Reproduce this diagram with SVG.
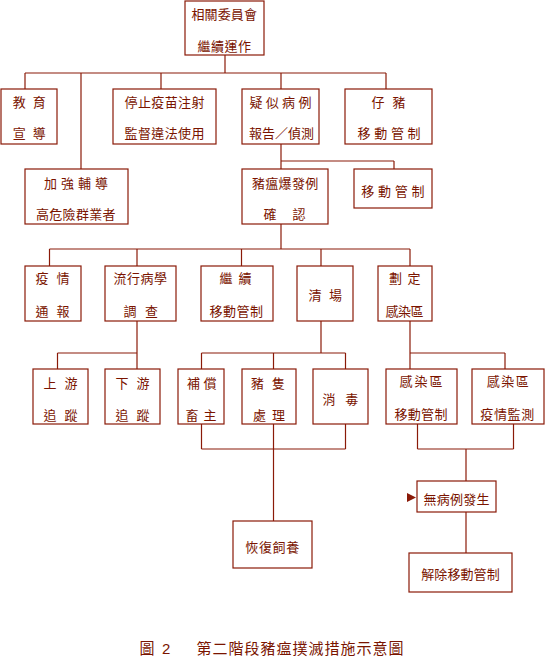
<svg xmlns="http://www.w3.org/2000/svg" width="546" height="662" viewBox="0 0 546 662">
<style>
.b{fill:#fff;stroke:#8a1a08;stroke-width:1.2}
.c line{stroke:#8a1a08;stroke-width:1.2}
text{font-family:"Noto Sans CJK TC","Noto Sans CJK SC",sans-serif;font-size:13px;fill:#7a1400}
.cap{font-size:15px}
</style>
<rect width="546" height="662" fill="#fff"/>
<g class="c" id="connectors">
<line x1="225" y1="55" x2="225" y2="73"/>
<line x1="25" y1="73" x2="386" y2="73"/>
<line x1="25" y1="73" x2="25" y2="89"/>
<line x1="81" y1="73" x2="81" y2="169"/>
<line x1="161" y1="73" x2="161" y2="89"/>
<line x1="281" y1="73" x2="281" y2="89"/>
<line x1="386" y1="73" x2="386" y2="89"/>
<line x1="281" y1="144" x2="281" y2="169"/>
<line x1="281" y1="161" x2="394" y2="161"/>
<line x1="394" y1="161" x2="394" y2="169"/>
<line x1="281" y1="224" x2="281" y2="249"/>
<line x1="49.5" y1="249" x2="410" y2="249"/>
<line x1="49.5" y1="249" x2="49.5" y2="266"/>
<line x1="137" y1="249" x2="137" y2="266"/>
<line x1="241.5" y1="249" x2="241.5" y2="266"/>
<line x1="321" y1="249" x2="321" y2="266"/>
<line x1="410" y1="249" x2="410" y2="266"/>
<line x1="137" y1="321" x2="137" y2="369"/>
<line x1="57.5" y1="353" x2="137" y2="353"/>
<line x1="57.5" y1="353" x2="57.5" y2="369"/>
<line x1="321" y1="321" x2="321" y2="353"/>
<line x1="201.5" y1="353" x2="345.5" y2="353"/>
<line x1="201.5" y1="353" x2="201.5" y2="369"/>
<line x1="273.5" y1="353" x2="273.5" y2="369"/>
<line x1="345.5" y1="353" x2="345.5" y2="369"/>
<line x1="410" y1="321" x2="410" y2="353"/>
<line x1="410" y1="353" x2="505" y2="353"/>
<line x1="410" y1="353" x2="410" y2="369"/>
<line x1="505" y1="353" x2="505" y2="369"/>
<line x1="201.5" y1="424" x2="201.5" y2="449"/>
<line x1="345.5" y1="424" x2="345.5" y2="449"/>
<line x1="201.5" y1="449" x2="345.5" y2="449"/>
<line x1="273.5" y1="424" x2="273.5" y2="521"/>
<line x1="417.5" y1="424" x2="417.5" y2="449"/>
<line x1="513.5" y1="424" x2="513.5" y2="449"/>
<line x1="417.5" y1="449" x2="513.5" y2="449"/>
<line x1="466" y1="449" x2="466" y2="481"/>
<line x1="466" y1="512" x2="466" y2="553"/>
<polygon points="407,493 407,502 416,497.5" fill="#8a1a08"/>
</g>
<g id="n1"><rect class="b" x="185" y="1" width="79" height="54"/>
<text x="191.5 204.6 217.7 230.8 243.9" y="19">相關委員會</text>
<text x="197.5 211 224.5 238" y="51">繼續運作</text></g>
<g id="n2"><rect class="b" x="1" y="89" width="56" height="55"/>
<text x="12.8 32.8" y="107">教育</text><text x="12.8 32.8" y="138">宣導</text></g>
<g id="n3"><rect class="b" x="113" y="89" width="103" height="55"/>
<text x="124.5 137.9 151.3 164.7 178.1 191.5" y="107">停止疫苗注射</text>
<text x="124.5 137.9 151.3 164.7 178.1 191.5" y="138">監督違法使用</text></g>
<g id="n4"><rect class="b" x="242" y="89" width="77" height="55"/>
<text x="249.5 265.8 282.1 298.4" y="107">疑似病例</text>
<text x="249 262 275 288 301" y="138">報告／偵測</text></g>
<g id="n5"><rect class="b" x="345" y="89" width="87" height="55"/>
<text x="371.5 392.5" y="107">仔豬</text>
<text x="357.5 374.2 390.9 407.6" y="138">移動管制</text></g>
<g id="n6"><rect class="b" x="25" y="169" width="103" height="55"/>
<text x="44 61 78 95" y="188">加強輔導</text>
<text x="36 49.3 62.6 75.9 89.2 102.5" y="219">高危險群業者</text></g>
<g id="n7"><rect class="b" x="242" y="169" width="86" height="55"/>
<text x="252 265.3 278.6 291.9 305.2" y="188">豬瘟爆發例</text>
<text x="263.5 292.5" y="219">確認</text></g>
<g id="n8"><rect class="b" x="354" y="169" width="78" height="39"/>
<text x="361.2 378 394.8 411.6" y="196">移動管制</text></g>
<g id="n9"><rect class="b" x="25" y="266" width="56" height="55"/>
<text x="35.5 56.5" y="283">疫情</text><text x="35.5 56.5" y="316">通報</text></g>
<g id="n10"><rect class="b" x="105" y="266" width="71" height="55"/>
<text x="113.5 127 140.5 154" y="283">流行病學</text><text x="123.5 145" y="316">調查</text></g>
<g id="n11"><rect class="b" x="201" y="266" width="72" height="55"/>
<text x="219.5 238.5" y="283">繼續</text><text x="209.5 223 236.5 250" y="316">移動管制</text></g>
<g id="n12"><rect class="b" x="297" y="266" width="56" height="55"/>
<text x="308.5 329" y="300">清場</text></g>
<g id="n13"><rect class="b" x="378" y="266" width="54" height="55"/>
<text x="389 407.5" y="283">劃定</text><text x="385.5 398 410.5" y="316">感染區</text></g>
<g id="n14"><rect class="b" x="33" y="369" width="55" height="55"/>
<text x="43.5 64.5" y="388">上游</text><text x="43.5 64.5" y="420">追蹤</text></g>
<g id="n15"><rect class="b" x="105" y="369" width="55" height="55"/>
<text x="115.5 136.5" y="388">下游</text><text x="115.5 136.5" y="420">追蹤</text></g>
<g id="n16"><rect class="b" x="178" y="369" width="46" height="55"/>
<text x="187 203.5" y="388">補償</text><text x="185.5 203.5" y="420">畜主</text></g>
<g id="n17"><rect class="b" x="242" y="369" width="54" height="55"/>
<text x="251 272" y="388">豬隻</text><text x="253 272" y="420">處理</text></g>
<g id="n18"><rect class="b" x="313" y="369" width="55" height="55"/>
<text x="322.5 345.3" y="404">消毒</text></g>
<g id="n19"><rect class="b" x="386" y="369" width="71" height="55"/>
<text x="399.5 414.5 429.5" y="386">感染區</text>
<text x="394.5 407.8 421.1 434.4" y="419">移動管制</text></g>
<g id="n20"><rect class="b" x="472" y="369" width="72" height="55"/>
<text x="486.8 501.3 515.8" y="386">感染區</text>
<text x="480.2 493.9 507.6 521.3" y="419">疫情監測</text></g>
<g id="n21"><rect class="b" x="233" y="521" width="79" height="47"/>
<text x="245.2 258.9 272.6 286.3" y="552">恢復飼養</text></g>
<g id="n22"><rect class="b" x="417" y="481" width="79" height="31"/>
<text x="423.5 436.75 450 463.25 476.5" y="504">無病例發生</text></g>
<g id="n23"><rect class="b" x="409" y="553" width="103" height="39"/>
<text x="421.2 434.3 447.4 460.5 473.6 486.7" y="579">解除移動管制</text></g>
<g id="caption">
<text class="cap" x="139.5" y="654">圖</text>
<text class="cap" x="162" y="654" style="font-family:'Liberation Sans',sans-serif">2</text>
<text class="cap" x="196.5 212.5 228.5 244.5 260.5 276.5 292.5 308.5 324.5 340.5 356.5 372.5 388.5" y="654">第二階段豬瘟撲滅措施示意圖</text>
</g>
</svg>
